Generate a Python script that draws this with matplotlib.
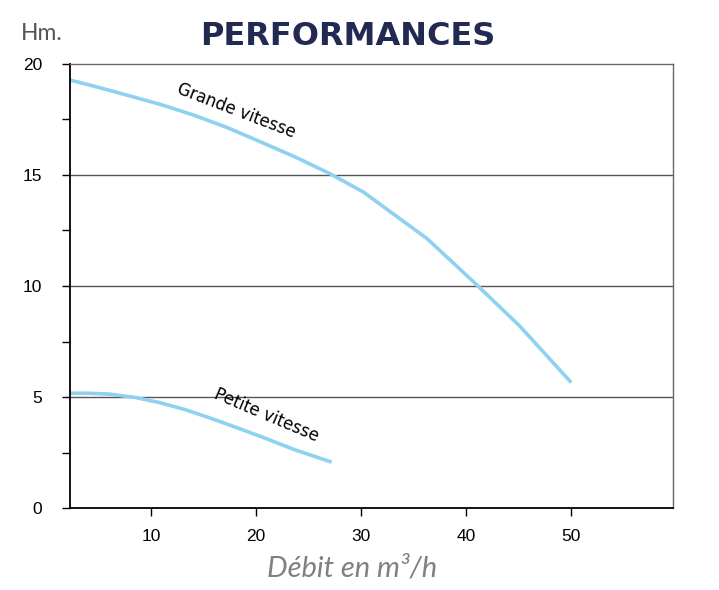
import matplotlib
matplotlib.use("Agg")
import matplotlib.pyplot as plt

grande_x = [2.45, 5.0, 7.7, 10.9, 14.0, 17.2, 20.4, 23.7, 27.0, 30.2, 35.0, 36.3, 41.0, 45.1, 49.9]
grande_y = [19.26, 18.95, 18.6, 18.18, 17.71, 17.15, 16.5, 15.82, 15.07, 14.24, 12.58, 12.13, 10.06, 8.2, 5.71]
petite_x = [2.45, 4.0, 6.1, 8.5, 10.9, 13.2, 15.6, 18.0, 20.4, 23.6, 27.05]
petite_y = [5.17, 5.17, 5.13, 4.98, 4.74, 4.44, 4.06, 3.65, 3.23, 2.64, 2.09]
xticks = [10, 20, 30, 40, 50]
yticks = [0, 5, 10, 15, 20]

fig = plt.figure(figsize=(7.19, 5.9), dpi=100)
ax = fig.add_axes([70/719, 1-508/590, (673-70)/719, (508-64)/590])

line_col = "#8ed1f0"
ax.plot(grande_x, grande_y, color=line_col, lw=2.6, solid_joinstyle="round")
ax.plot(petite_x, petite_y, color=line_col, lw=2.6, solid_joinstyle="round")

ax.set_xlim(2.3, 59.7)
ax.set_ylim(0, 20)
for yv in [5, 10, 15]:
    ax.axhline(yv, color="#555555", lw=1.0, zorder=0)

ax.set_xticks(xticks)
ax.set_yticks(yticks)
ax.set_yticks([2.5, 7.5, 12.5, 17.5], minor=True)
ax.tick_params(axis="y", which="both", direction="out", length=6, width=1, color="black", pad=14, labelsize=12.5)
ax.tick_params(axis="x", which="major", direction="out", length=6, width=1, color="black", pad=9, labelsize=12.5)
for lab in ax.get_xticklabels() + ax.get_yticklabels():
    lab.set_fontfamily("Liberation Sans")

for s in ["left", "bottom"]:
    ax.spines[s].set_color("black")
    ax.spines[s].set_linewidth(1.3)
for s in ["top", "right"]:
    ax.spines[s].set_color("#666666")
    ax.spines[s].set_linewidth(1.0)

ax.text(18.1, 17.9, "Grande vitesse", rotation=-21, fontsize=12, ha="center", va="center",
        rotation_mode="anchor", family="DejaVu Sans")
ax.text(21.0, 4.2, "Petite vitesse", rotation=-23, fontsize=12, ha="center", va="center",
        rotation_mode="anchor", family="DejaVu Sans")

fig.text(348/719, 1-45/590, "PERFORMANCES", fontsize=23, fontweight="bold", color="#232a52",
         ha="center", va="baseline", family="DejaVu Sans")
fig.text(42/719, 1-40/590, "Hm.", fontsize=16.5, color="#555555", ha="center", va="baseline", family="Lato")
fig.text(352/719, 1-577/590, "Débit en m³/h", fontsize=21, color="#808080", style="italic",
         ha="center", va="baseline", family="Lato")

fig.savefig("out.png", dpi=100)
